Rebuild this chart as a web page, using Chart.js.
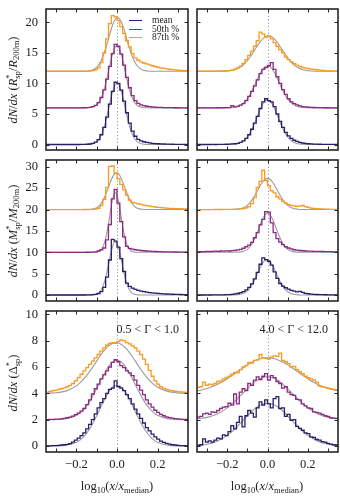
<!DOCTYPE html>
<html><head><meta charset="utf-8">
<script src="https://cdn.jsdelivr.net/npm/chart.js@4.4.1/dist/chart.umd.min.js"></script>
<style>
html,body{margin:0;padding:0;background:#fff;}
#wrap{position:relative;width:340px;height:501px;overflow:hidden;font-family:"Liberation Serif","DejaVu Serif",serif;color:#222;}
canvas{position:absolute;}
.ylab{position:absolute;white-space:nowrap;font-size:12.5px;line-height:14px;transform:translate(-50%,-50%) rotate(-90deg);}
.xlab{position:absolute;white-space:nowrap;font-size:12.5px;line-height:14px;transform:translateX(-50%);}
.ann{position:absolute;white-space:nowrap;font-size:12px;line-height:14px;}
.ss{display:inline-block;vertical-align:-0.38em;font-size:68%;line-height:0.95;text-align:left;}
.ss span{display:block;}
sub{font-size:68%;vertical-align:-0.3em;line-height:0;}
.legline{position:absolute;height:1.4px;width:13px;}
.legtxt{position:absolute;font-size:9.5px;line-height:10px;white-space:nowrap;}
</style>
</head><body><div id="wrap"></div>
<script>
// ---------------- data ----------------
const binStart = -0.35, binWidth = 0.014;          // histogram bins (50 bins)
const fitX = [-0.35,-0.30,-0.25,-0.20,-0.175,-0.15,-0.125,-0.10,-0.085,-0.07,-0.055,-0.04,-0.03,-0.02,-0.01,0,0.01,0.02,0.03,0.04,0.055,0.07,0.085,0.10,0.125,0.15,0.175,0.20,0.25,0.30,0.35];
const seriesNames = ['mean','50th %','87th %'];
const rowOffsets = [[0,6,12],[0,10,20],[0,2,4]];
const xTickVals = [-0.2,0,0.2];
const xTickLabels = ['\u22120.2','0.0','0.2'];
const xMinorTicks = [-0.3,-0.2,-0.1,0,0.1,0.2,0.3];
const yTickVals = [[0,5,10,15,20],[0,5,10,15,20,25,30],[0,2,4,6,8,10]];
const yTickLabels = [['0','5','10','15','20'],['0','5','10','15','20','25','30'],['0','2','4','6','8','10']];
const yRanges = [[-0.9,22.2],[-1.4,31.6],[-0.45,10.25]];
const annotations = ['', '', '', '', '0.5 < \u0393 < 1.0', '4.0 < \u0393 < 12.0'];

// panel 1: R_sp, left
const p1_mean = [0,0,0,0,0,0,0,0,0,0,0,0,0.01,0.02,0.04,0.08,0.18,0.38,0.8,1.6,2.8,4.5,6.6,8.7,10.2,10.0,8.9,7.1,5.2,3.5,2.2,1.35,0.85,0.6,0.45,0.34,0.26,0.2,0.16,0.12,0.1,0.08,0.06,0.05,0.04,0.03,0.03,0.02,0.02,0.01];
const p1_p50 = [0,0,0,0,0,0,0,0,0,0,0,0,0.01,0.02,0.04,0.09,0.2,0.42,0.85,1.7,2.95,4.7,6.8,8.9,10.4,10.1,8.8,7.0,5.0,3.3,2.0,1.2,0.75,0.5,0.36,0.27,0.2,0.15,0.12,0.09,0.07,0.05,0.04,0.03,0.03,0.02,0.02,0.01,0.01,0.01];
const p1_p87 = [0,0,0,0,0,0,0,0,0,0,0,0,0,0.01,0.02,0.04,0.1,0.25,0.55,1.4,3.0,5.3,7.8,9.1,8.9,8.3,7.3,6.2,5.0,4.0,2.9,2.2,1.8,1.55,1.35,1.2,1.05,0.9,0.78,0.66,0.56,0.47,0.4,0.33,0.27,0.22,0.18,0.14,0.11,0.09];
const p1_fit_mean = [0,0,0,0,0,0.01,0.08,0.44,1.05,2.16,3.89,6.07,7.55,8.82,9.69,10,9.69,8.82,7.55,6.07,3.89,2.16,1.05,0.44,0.08,0.01,0,0,0,0,0];
const p1_fit_p50 = [0,0,0,0,0,0.01,0.09,0.47,1.12,2.28,4.05,6.25,7.75,9.0,9.9,10.2,9.85,8.9,7.6,5.95,3.8,2.05,0.98,0.4,0.07,0.01,0,0,0,0,0];
const p1_fit_p87 = [0,0,0,0,0,0.03,0.15,0.64,1.3,2.37,3.84,5.57,6.72,7.72,8.44,8.78,8.69,8.19,7.35,6.27,4.51,2.9,1.67,0.86,0.22,0.04,0,0,0,0,0];

// panel 2: R_sp, right
const p2_mean = [0,0,0,0,0,0.01,0,0.02,0.01,0.03,0.04,0.06,0.1,0.12,0.2,0.35,0.6,1.0,1.6,2.5,3.5,4.6,5.9,7.0,7.5,7.2,7.0,6.2,5.0,3.8,2.8,2.0,1.4,1.0,0.7,0.5,0.35,0.25,0.18,0.12,0.1,0.07,0.05,0.04,0.03,0.02,0.02,0.01,0.01,0];
const p2_p50 = [0,0,0,0,0,0,0.01,0.02,0.01,0.02,0.03,0.05,0.35,0.15,0.25,0.45,0.7,1.2,1.9,2.7,3.6,4.6,5.6,6.3,6.6,6.9,7.4,6.3,5.1,4.0,3.0,2.2,1.5,1.0,0.7,0.48,0.33,0.22,0.15,0.1,0.08,0.06,0.05,0.04,0.03,0.02,0.02,0.01,0.01,0];
const p2_p87 = [0,0,0,0,0,0,0.01,0.02,0.03,0.05,0.08,0.12,0.2,0.35,0.55,0.85,1.3,1.9,2.6,3.3,4.1,5.0,6.4,6.1,5.6,5.8,5.3,4.7,4.1,3.5,3.0,2.3,1.9,1.55,1.25,1.0,0.8,0.62,0.5,0.42,0.35,0.3,0.25,0.2,0.15,0.1,0.07,0.05,0.03,0.02];
const p2_fit_mean = [0,0,0,0.01,0.03,0.13,0.45,1.23,2.01,3.05,4.26,5.49,6.22,6.8,7.17,7.3,7.17,6.8,6.22,5.49,4.26,3.05,2.01,1.23,0.45,0.13,0.03,0.01,0,0,0];
const p2_fit_p50 = [0,0,0,0.01,0.06,0.22,0.62,1.48,2.27,3.24,4.33,5.4,6.01,6.49,6.8,6.9,6.8,6.49,6.01,5.4,4.33,3.24,2.27,1.48,0.62,0.22,0.06,0.01,0,0,0];
const p2_fit_p87 = [0,0,0.01,0.06,0.17,0.43,0.94,1.76,2.41,3.16,3.93,4.66,5.08,5.42,5.66,5.78,5.78,5.66,5.42,5.08,4.43,3.67,2.9,2.19,1.22,0.6,0.25,0.09,0.01,0,0];

// panel 3: M_sp, left
const p3_mean = [0,0,0,0,0,0,0,0,0,0,0,0,0,0.01,0.02,0.04,0.08,0.15,0.35,0.8,1.8,4.2,8.2,13.0,12.6,11.2,8.5,5.5,2.8,2.0,1.6,1.3,1.1,0.9,0.78,0.67,0.58,0.5,0.43,0.37,0.32,0.28,0.24,0.21,0.18,0.16,0.14,0.12,0.11,0.1];
const p3_p50 = [0,0,0,0,0,0,0,0,0,0,0,0,0,0,0.01,0.02,0.05,0.12,0.3,0.6,1.0,2.9,6.5,12.5,14.7,11.5,7.2,3.6,1.4,0.9,0.75,0.6,0.5,0.42,0.36,0.3,0.26,0.22,0.19,0.16,0.14,0.12,0.1,0.09,0.08,0.07,0.06,0.05,0.04,0.04];
const p3_p87 = [0,0,0,0,0,0,0,0,0,0,0,0,0,0.01,0.02,0.03,0.06,0.12,0.3,0.9,2.4,5.2,10.1,10.2,8.5,7.2,5.9,4.6,3.3,2.2,1.7,1.5,1.35,1.2,1.05,0.92,0.8,0.7,0.6,0.52,0.45,0.39,0.34,0.3,0.27,0.24,0.21,0.19,0.17,0.15];
const p3_fit_mean = [0,0,0,0,0,0,0.02,0.2,0.69,1.91,4.25,7.58,9.86,11.65,12.48,12.11,10.68,8.53,6.17,4.06,1.8,0.64,0.18,0.04,0,0,0,0,0,0,0];
const p3_fit_p50 = [0,0,0,0,0,0,0,0.06,0.32,1.21,3.42,7.29,10.27,12.77,13.96,13.44,11.38,8.49,5.58,3.22,1.11,0.29,0.06,0,0,0,0,0,0,0,0];
const p3_fit_p87 = [0,0,0,0,0,0.01,0.08,0.43,1.0,2.03,3.57,5.47,6.73,7.77,8.43,8.59,8.22,7.4,6.25,4.96,3.11,1.7,0.81,0.33,0.06,0.01,0,0,0,0,0];

// panel 4: M_sp, right
const p4_mean = [0,0.01,0,0.02,0.01,0.03,0.02,0.04,0.03,0.05,0.08,0.1,0.15,0.25,0.35,0.55,0.8,1.2,1.8,2.6,3.8,5.3,7.2,8.7,8.3,7.9,7.0,5.4,3.9,2.7,2.1,1.7,1.4,1.1,0.9,0.75,0.85,0.6,0.4,0.3,0.22,0.16,0.12,0.1,0.08,0.06,0.05,0.04,0.03,0.02];
const p4_p50 = [0.1,0.15,0.12,0.2,0.18,0.22,0.25,0.2,0.3,0.28,0.35,0.3,0.4,0.45,0.55,0.7,0.95,1.3,1.7,2.3,3.4,4.6,6.4,7.7,9.5,9.4,6.9,4.6,3.2,2.4,1.8,1.3,1.0,0.8,0.6,0.5,0.42,0.36,0.3,0.28,0.25,0.22,0.2,0.22,0.18,0.16,0.14,0.15,0.12,0.1];
const p4_p87 = [0,0,0,0,0,0,0.01,0.02,0.02,0.03,0.04,0.05,0.06,0.08,0.1,0.15,0.25,0.4,0.7,1.4,2.8,5.2,6.6,9.2,6.8,5.6,4.4,3.9,3.0,2.5,1.9,1.5,1.2,1.0,0.85,0.75,0.8,0.95,0.7,0.5,0.35,0.3,0.22,0.18,0.14,0.1,0.08,0.06,0.05,0.04];
const p4_fit_mean = [0,0,0,0,0.01,0.06,0.28,0.99,1.81,3.0,4.5,6.09,7.04,7.78,8.21,8.28,7.99,7.36,6.49,5.46,3.88,2.49,1.45,0.75,0.2,0.04,0,0,0,0,0];
const p4_fit_p50 = [0,0,0,0,0,0.03,0.16,0.69,1.41,2.57,4.17,6.02,7.22,8.21,8.87,9.1,8.87,8.21,7.22,6.02,4.17,2.57,1.41,0.69,0.16,0.03,0,0,0,0,0];
const p4_fit_p87 = [0,0,0,0,0.02,0.08,0.32,0.99,1.72,2.74,3.99,5.3,6.1,6.74,7.15,7.3,7.15,6.74,6.1,5.3,3.99,2.74,1.72,0.99,0.32,0.08,0.02,0,0,0,0];

// panel 5: Delta_sp, 0.5 < Gamma < 1.0
const p5_mean = [0.01,0.02,0.03,0.04,0.06,0.08,0.1,0.13,0.18,0.3,0.45,0.6,0.8,1.0,1.3,1.65,2.0,2.45,2.9,3.3,3.6,4.0,4.3,4.4,4.95,4.5,4.4,4.2,3.9,3.6,3.2,2.8,2.45,2.1,1.75,1.4,1.15,0.9,0.7,0.52,0.38,0.28,0.2,0.15,0.1,0.08,0.06,0.04,0.03,0.02];
const p5_p50 = [0.01,0.02,0.03,0.04,0.05,0.07,0.1,0.15,0.2,0.28,0.38,0.5,0.65,0.85,1.15,1.5,1.95,2.35,2.7,3.1,3.4,3.7,4.0,4.35,4.55,4.4,4.1,3.95,3.7,3.55,3.35,3.0,2.6,2.25,1.9,1.5,1.2,0.95,0.72,0.55,0.4,0.3,0.22,0.16,0.12,0.08,0.06,0.04,0.03,0.02];
const p5_p87 = [0.1,0.14,0.2,0.25,0.3,0.35,0.42,0.5,0.6,0.75,0.95,1.2,1.45,1.7,1.95,2.2,2.45,2.7,2.95,3.2,3.45,3.65,3.8,3.85,3.8,3.95,4.05,4.0,3.85,3.75,3.6,3.45,3.2,2.95,2.6,2.2,1.75,1.3,0.95,0.7,0.5,0.38,0.3,0.25,0.2,0.16,0.13,0.11,0.09,0.08];
const p5_fit_mean = [0,0.01,0.06,0.29,0.55,0.97,1.56,2.3,2.79,3.28,3.73,4.12,4.32,4.48,4.57,4.6,4.57,4.48,4.32,4.12,3.73,3.28,2.79,2.3,1.56,0.97,0.55,0.29,0.06,0.01,0];
const p5_fit_p50 = [0,0.01,0.08,0.34,0.62,1.05,1.64,2.36,2.82,3.28,3.7,4.06,4.25,4.39,4.47,4.5,4.47,4.39,4.25,4.06,3.7,3.28,2.82,2.36,1.64,1.05,0.62,0.34,0.08,0.01,0];
const p5_fit_p87 = [0.01,0.05,0.19,0.57,0.91,1.35,1.88,2.45,2.8,3.12,3.4,3.62,3.73,3.81,3.85,3.85,3.81,3.73,3.62,3.48,3.22,2.91,2.57,2.22,1.65,1.16,0.76,0.47,0.15,0.04,0.01];

// panel 6: Delta_sp, 4.0 < Gamma < 12.0
const p6_mean = [0.05,0.1,0.55,0.3,0.4,0.3,0.45,0.6,0.55,0.85,0.8,1.1,1.55,1.3,1.8,2.25,1.45,2.3,2.7,2.5,2.2,2.9,3.35,3.1,3.5,3.2,2.9,3.6,3.75,2.85,2.9,2.25,2.4,1.95,2.0,1.5,1.35,1.2,1.0,0.95,0.7,0.65,0.5,0.45,0.33,0.3,0.2,0.15,0.1,0.08];
const p6_p50 = [0.2,0.25,0.45,0.5,0.4,0.6,0.55,0.7,0.85,0.95,1.0,1.25,1.1,1.95,1.2,2.1,2.35,2.2,2.75,2.6,3.0,3.25,3.05,3.3,3.5,3.0,3.35,3.2,2.9,2.75,2.4,2.5,2.1,1.9,1.85,1.55,1.5,1.2,1.05,0.9,0.85,0.6,0.55,0.5,0.4,0.3,0.25,0.15,0.12,0.1];
const p6_p87 = [0.45,0.5,0.85,0.6,0.7,0.65,0.75,0.9,0.95,1.1,1.2,1.3,1.45,1.6,1.55,1.8,2.0,2.1,2.35,2.3,2.5,2.55,2.95,2.7,2.65,2.6,2.75,2.85,2.8,3.05,2.5,2.4,2.25,2.0,2.05,1.8,1.65,1.5,1.3,1.2,1.1,1.0,0.85,0.55,0.5,0.45,0.4,0.35,0.3,0.28];
const p6_fit_mean = [0.05,0.14,0.37,0.81,1.12,1.49,1.89,2.3,2.53,2.74,2.93,3.07,3.15,3.2,3.24,3.25,3.24,3.2,3.15,3.07,2.93,2.74,2.53,2.3,1.89,1.49,1.12,0.81,0.37,0.14,0.05];
const p6_fit_p50 = [0.06,0.18,0.44,0.9,1.22,1.58,1.97,2.36,2.58,2.78,2.95,3.09,3.16,3.21,3.24,3.25,3.24,3.21,3.16,3.09,2.95,2.78,2.58,2.36,1.97,1.58,1.22,0.9,0.44,0.18,0.06];
const p6_fit_p87 = [0.18,0.37,0.67,1.11,1.37,1.64,1.91,2.16,2.3,2.42,2.52,2.6,2.65,2.68,2.69,2.7,2.69,2.68,2.65,2.6,2.52,2.42,2.3,2.16,1.91,1.64,1.37,1.11,0.67,0.37,0.18];

// ---------------- styling / layout ----------------
const seriesColors = ['#2b1d6b','#8a2a82','#fa9a1f'];
const fitColor = '#9b9b9b';
const FONT = '"Liberation Serif","DejaVu Serif",serif';
const colGeom = [{left:0,width:190,padL:46},{left:190,width:150,padL:7}];
const rowGeom = [{top:0,height:155,padT:9,padB:5},{top:155,height:151,padT:5,padB:5},{top:306,height:195,padT:5,padB:49}];

const panels = [
  {row:0,col:0,hist:[p1_mean,p1_p50,p1_p87],fit:[p1_fit_mean,p1_fit_p50,p1_fit_p87]},
  {row:0,col:1,hist:[p2_mean,p2_p50,p2_p87],fit:[p2_fit_mean,p2_fit_p50,p2_fit_p87]},
  {row:1,col:0,hist:[p3_mean,p3_p50,p3_p87],fit:[p3_fit_mean,p3_fit_p50,p3_fit_p87]},
  {row:1,col:1,hist:[p4_mean,p4_p50,p4_p87],fit:[p4_fit_mean,p4_fit_p50,p4_fit_p87]},
  {row:2,col:0,hist:[p5_mean,p5_p50,p5_p87],fit:[p5_fit_mean,p5_fit_p50,p5_fit_p87]},
  {row:2,col:1,hist:[p6_mean,p6_p50,p6_p87],fit:[p6_fit_mean,p6_fit_p50,p6_fit_p87]}
];

const framePlugin = {
  id:'frame',
  beforeDatasetsDraw(chart){
    const {ctx, chartArea:a, scales:{x}} = chart;
    const px = Math.round(x.getPixelForValue(0)) + 0.5;
    ctx.save();
    ctx.strokeStyle = '#8a8a8a'; ctx.lineWidth = 0.9; ctx.setLineDash([1.2,2.2]);
    ctx.beginPath(); ctx.moveTo(px,a.top); ctx.lineTo(px,a.bottom); ctx.stroke();
    ctx.restore();
  },
  afterDraw(chart){
    const {ctx, chartArea:a, scales:{x,y}} = chart;
    const row = chart.options.plugins.frame.row;
    const L = 3.5;
    ctx.save();
    ctx.strokeStyle = '#262626'; ctx.lineWidth = 1; ctx.setLineDash([]);
    ctx.beginPath();
    xMinorTicks.forEach(v => {
      const p = Math.round(x.getPixelForValue(v)) + 0.5;
      ctx.moveTo(p,a.bottom); ctx.lineTo(p,a.bottom-L);
      ctx.moveTo(p,a.top); ctx.lineTo(p,a.top+L);
    });
    yTickVals[row].forEach(v => {
      const p = Math.round(y.getPixelForValue(v)) + 0.5;
      ctx.moveTo(a.left,p); ctx.lineTo(a.left+L,p);
      ctx.moveTo(a.right,p); ctx.lineTo(a.right-L,p);
    });
    ctx.stroke();
    ctx.lineWidth = 1.6;
    ctx.strokeRect(a.left, a.top, a.right-a.left, a.bottom-a.top);
    ctx.restore();
  }
};

const wrap = document.getElementById('wrap');

function histPoints(vals, off){
  const pts = vals.map((v,i) => ({x: binStart + i*binWidth, y: v + off}));
  pts.push({x: binStart + vals.length*binWidth, y: vals[vals.length-1] + off});
  return pts;
}

panels.forEach(p => {
  const cg = colGeom[p.col], rg = rowGeom[p.row];
  const cv = document.createElement('canvas');
  cv.width = cg.width; cv.height = rg.height;
  cv.style.left = cg.left + 'px'; cv.style.top = rg.top + 'px';
  cv.style.width = cg.width + 'px'; cv.style.height = rg.height + 'px';
  wrap.appendChild(cv);
  const offs = rowOffsets[p.row];
  const datasets = [];
  p.hist.forEach((h,k) => datasets.push({
    label: seriesNames[k], data: histPoints(h, offs[k]), stepped: true,
    borderColor: seriesColors[k], borderWidth: 1.3, pointRadius: 0, fill: false, order: 0
  }));
  p.fit.forEach((f,k) => datasets.push({
    label: seriesNames[k] + ' fit', data: fitX.map((xv,i) => ({x: xv, y: f[i] + offs[k]})),
    cubicInterpolationMode: 'monotone', borderColor: fitColor, borderWidth: 1.1,
    pointRadius: 0, fill: false, order: 1
  }));
  const isBottom = p.row === 2, isLeft = p.col === 0;
  new Chart(cv, {
    type: 'line',
    data: {datasets},
    plugins: [framePlugin],
    options: {
      responsive: false, animation: false, devicePixelRatio: 1,
      layout: {padding: {top: rg.padT, right: 2, bottom: 0, left: 0}},
      plugins: {legend: {display: false}, tooltip: {enabled: false}, frame: {row: p.row}},
      scales: {
        x: {
          type: 'linear', min: -0.35, max: 0.35,
          grid: {display: false, drawTicks: false, tickLength: 0}, border: {display: false},
          afterBuildTicks: s => { s.ticks = xTickVals.map(v => ({value: v})); },
          ticks: {display: isBottom, padding: 5, autoSkip: false, maxRotation: 0,
                  font: {family: FONT, size: 12.5}, color: '#222',
                  callback: (v,i) => xTickLabels[i]},
          afterFit: s => { s.height = rg.padB; s.paddingLeft = 0; s.paddingRight = 0; s.paddingTop = 0; s.paddingBottom = 0; }
        },
        y: {
          type: 'linear', min: yRanges[p.row][0], max: yRanges[p.row][1],
          grid: {display: false, drawTicks: false, tickLength: 0}, border: {display: false},
          afterBuildTicks: s => { s.ticks = yTickVals[p.row].map(v => ({value: v})); },
          ticks: {display: isLeft, padding: 8, autoSkip: false,
                  font: {family: FONT, size: 12.5}, color: '#222',
                  callback: (v,i) => yTickLabels[p.row][i]},
          afterFit: s => { s.width = cg.padL; s.paddingLeft = 0; s.paddingRight = 0; s.paddingTop = 0; s.paddingBottom = 0; }
        }
      }
    }
  });
});

// ---------- text overlays ----------
function addDiv(cls, html, style){
  const d = document.createElement('div'); d.className = cls; d.innerHTML = html;
  Object.assign(d.style, style); wrap.appendChild(d); return d;
}
const star = '<span class="ss"><span>*</span><span>sp</span></span>';
addDiv('ylab', '<i>dN</i>/<i>dx</i> (<i>R</i>' + star + '/<i>R</i><sub>200m</sub>)', {left:'13px', top:'80px'});
addDiv('ylab', '<i>dN</i>/<i>dx</i> (<i>M</i>' + star + '/<i>M</i><sub>200m</sub>)', {left:'13px', top:'231px'});
addDiv('ylab', '<i>dN</i>/<i>dx</i> (\u0394' + star + ')', {left:'13px', top:'383px'});
addDiv('xlab', 'log<sub>10</sub>(<i>x</i>/<i>x</i><sub>median</sub>)', {left:'117px', top:'479px'});
addDiv('xlab', 'log<sub>10</sub>(<i>x</i>/<i>x</i><sub>median</sub>)', {left:'267px', top:'479px'});
addDiv('ann', annotations[4], {right:'161px', top:'322px'});
addDiv('ann', annotations[5], {right:'12px', top:'322px'});
// legend
const legY = [20.7, 29.2, 37.7];
seriesNames.forEach((n,k) => {
  addDiv('legline', '', {left:'129px', top:(legY[k]-0.7)+'px', background: seriesColors[k]});
  addDiv('legtxt', n, {left:'152px', top:(legY[k]-5.5)+'px'});
});
</script>
</body></html>
